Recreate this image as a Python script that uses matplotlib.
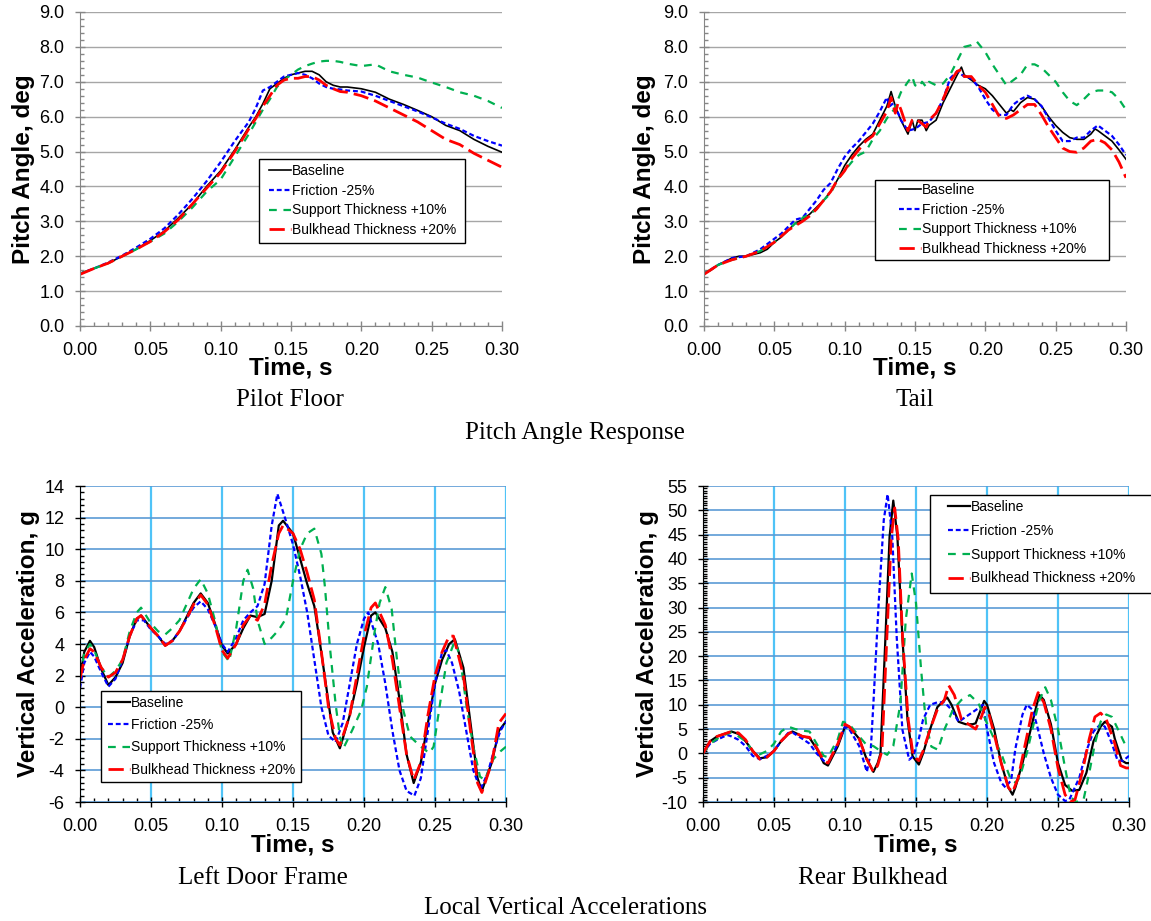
import matplotlib
matplotlib.use('Agg')
import matplotlib.pyplot as plt
from matplotlib.patches import Rectangle
from matplotlib.ticker import MultipleLocator, FormatStrFormatter

plt.rcParams['font.family'] = ['Liberation Sans', 'DejaVu Sans']
plt.rcParams['axes.unicode_minus'] = False

# ---- data ----
series_names = ['Baseline', 'Friction -25%', 'Support Thickness +10%', 'Bulkhead Thickness +20%']

# Pitch angle, pilot floor (deg) - one time base for all four runs
pf_t = [0, .01, .02, .03, .04, .05, .06, .07, .08, .09, .10, .11, .12, .125, .13, .135, .14, .145, .15,
        .155, .16, .165, .17, .175, .18, .185, .19, .20, .21, .22, .23, .24, .25, .26, .27, .28, .29, .30]
pf_base = [1.5, 1.65, 1.8, 2.0, 2.2, 2.45, 2.72, 3.1, 3.5, 4.0, 4.45, 5.05, 5.7, 6.0, 6.37, 6.8, 6.95, 7.1, 7.2,
           7.25, 7.3, 7.3, 7.2, 7.0, 6.9, 6.85, 6.85, 6.8, 6.7, 6.5, 6.35, 6.18, 6.0, 5.75, 5.6, 5.35, 5.15, 4.98]
pf_fric = [1.5, 1.65, 1.82, 2.02, 2.25, 2.5, 2.8, 3.2, 3.65, 4.15, 4.7, 5.3, 5.85, 6.25, 6.75, 6.85, 7.0, 7.15, 7.2,
           7.25, 7.2, 7.1, 6.95, 6.85, 6.8, 6.78, 6.75, 6.72, 6.6, 6.45, 6.3, 6.15, 5.98, 5.8, 5.65, 5.45, 5.3, 5.17]
pf_supp = [1.5, 1.65, 1.8, 2.0, 2.2, 2.42, 2.65, 3.0, 3.4, 3.85, 4.2, 4.85, 5.5, 5.85, 6.2, 6.5, 6.85, 7.05, 7.2,
           7.35, 7.45, 7.52, 7.58, 7.6, 7.6, 7.57, 7.52, 7.45, 7.5, 7.3, 7.2, 7.12, 6.98, 6.85, 6.7, 6.6, 6.45, 6.25]
pf_bulk = [1.48, 1.65, 1.8, 2.0, 2.2, 2.42, 2.7, 3.05, 3.5, 3.95, 4.4, 5.0, 5.65, 5.95, 6.3, 6.6, 6.9, 7.05, 7.1,
           7.1, 7.15, 7.15, 7.05, 6.9, 6.8, 6.72, 6.7, 6.6, 6.45, 6.25, 6.05, 5.85, 5.6, 5.35, 5.2, 4.95, 4.75, 4.55]

# Pitch angle, tail (deg)
tl_base_t = [0, .005, .01, .015, .02, .025, .03, .035, .04, .045, .05, .055, .06, .065, .07, .075, .08, .085, .09, .095,
             .10, .105, .11, .115, .12, .125, .13, .133, .136, .14, .145, .148, .15, .152, .155, .158, .16, .165, .17, .175,
             .18, .183, .185, .19, .195, .20, .205, .21, .215, .218, .22, .225, .23, .235, .24, .245, .25, .255, .26, .265,
             .27, .275, .278, .28, .285, .29, .295, .30]
tl_base = [1.5, 1.6, 1.75, 1.85, 1.95, 2.0, 2.0, 2.05, 2.1, 2.2, 2.4, 2.55, 2.75, 2.95, 3.05, 3.2, 3.4, 3.6, 3.85, 4.2,
           4.6, 4.9, 5.15, 5.35, 5.5, 5.9, 6.3, 6.72, 6.3, 5.9, 5.5, 5.9, 5.6, 5.9, 5.9, 5.6, 5.75, 5.9, 6.4, 6.8,
           7.2, 7.42, 7.2, 7.05, 6.9, 6.8, 6.6, 6.35, 6.1, 6.2, 6.15, 6.4, 6.55, 6.5, 6.3, 6.0, 5.75, 5.55, 5.4, 5.35,
           5.35, 5.5, 5.65, 5.6, 5.45, 5.3, 5.05, 4.78]
tl_fric_t = [0, .01, .02, .03, .04, .05, .055, .06, .065, .07, .075, .08, .085, .09, .095, .10, .105, .11, .115, .12,
             .125, .13, .132, .135, .14, .145, .15, .155, .16, .165, .17, .175, .18, .185, .19, .195, .20, .205, .21, .215,
             .22, .225, .23, .235, .24, .245, .25, .255, .26, .265, .27, .275, .28, .285, .29, .295, .30]
tl_fric = [1.5, 1.75, 1.95, 2.0, 2.2, 2.5, 2.65, 2.85, 3.05, 3.1, 3.35, 3.6, 3.9, 4.1, 4.5, 4.85, 5.1, 5.3, 5.55, 5.8,
           6.15, 6.55, 6.3, 6.4, 5.9, 5.6, 5.65, 5.8, 5.85, 6.1, 6.5, 7.1, 7.3, 7.15, 7.1, 6.85, 6.5, 6.2, 6.05, 6.05,
           6.35, 6.5, 6.6, 6.5, 6.3, 5.95, 5.6, 5.3, 5.3, 5.4, 5.4, 5.6, 5.75, 5.6, 5.45, 5.2, 4.9]
tl_supp_t = [0, .01, .02, .03, .04, .05, .06, .065, .068, .07, .075, .08, .085, .09, .095, .10, .105, .11, .115, .12,
             .125, .13, .135, .14, .145, .148, .15, .153, .155, .158, .16, .165, .17, .175, .18, .185, .19, .194, .197, .20,
             .205, .21, .215, .22, .225, .23, .235, .24, .245, .25, .255, .26, .265, .27, .275, .28, .285, .29, .295, .30]
tl_supp = [1.5, 1.75, 1.9, 2.0, 2.15, 2.4, 2.75, 2.95, 2.9, 3.1, 3.2, 3.35, 3.6, 3.8, 4.2, 4.45, 4.7, 4.9, 5.0, 5.35,
           5.6, 5.95, 6.2, 6.7, 7.0, 7.15, 6.9, 6.85, 7.0, 6.85, 7.0, 6.9, 6.95, 7.2, 7.6, 8.0, 8.05, 8.15, 8.0, 7.85,
           7.5, 7.2, 6.9, 7.05, 7.2, 7.5, 7.5, 7.4, 7.2, 7.0, 6.7, 6.45, 6.33, 6.5, 6.7, 6.75, 6.75, 6.7, 6.5, 6.2]
tl_bulk_t = [0, .01, .02, .03, .04, .05, .06, .07, .075, .08, .085, .09, .095, .10, .105, .11, .115, .12, .125, .13,
             .133, .136, .138, .14, .145, .148, .15, .155, .158, .16, .165, .17, .175, .18, .183, .185, .19, .195, .20, .205,
             .21, .215, .22, .225, .23, .235, .24, .245, .25, .255, .26, .265, .27, .275, .28, .285, .29, .295, .30]
tl_bulk = [1.48, 1.75, 1.9, 2.0, 2.15, 2.4, 2.75, 3.0, 3.15, 3.35, 3.6, 3.85, 4.2, 4.45, 4.8, 5.05, 5.3, 5.45, 5.8, 6.15,
           6.55, 6.1, 6.4, 6.2, 5.6, 5.9, 5.95, 5.8, 5.7, 5.9, 6.1, 6.5, 7.0, 7.3, 7.35, 7.15, 7.15, 6.9, 6.7, 6.35,
           6.0, 5.95, 6.05, 6.2, 6.35, 6.35, 6.05, 5.7, 5.4, 5.1, 5.0, 4.98, 5.1, 5.3, 5.35, 5.25, 5.05, 4.7, 4.25]

# Vertical acceleration, left door frame (g)
ld_base_t = [0, .003, .007, .01, .015, .02, .025, .03, .035, .04, .043, .05, .055, .06, .065, .07, .075, .08, .085, .09,
             .095, .10, .104, .11, .115, .12, .125, .13, .135, .14, .143, .15, .155, .16, .165, .169, .175, .178, .183, .19,
             .195, .20, .205, .208, .215, .22, .225, .23, .235, .24, .245, .25, .255, .26, .264, .27, .275, .28, .283, .29,
             .295, .30]
ld_base = [1.8, 3.5, 4.2, 3.8, 2.4, 1.4, 1.9, 2.8, 4.5, 5.6, 5.8, 5.0, 4.5, 3.9, 4.2, 4.8, 5.7, 6.6, 7.2, 6.6,
           5.3, 3.9, 3.4, 4.0, 5.0, 5.8, 5.7, 5.9, 8.0, 11.5, 11.8, 11.0, 9.4, 7.8, 6.4, 4.05, 0.3, -1.6, -2.6, -0.5,
           1.5, 3.8, 5.8, 6.0, 5.0, 3.5, 0.5, -3.0, -4.8, -3.5, -1.0, 1.5, 3.0, 4.0, 4.3, 2.5, -1.0, -4.5, -5.3, -3.5,
           -1.5, -0.9]
ld_fric_t = [0, .003, .007, .01, .015, .02, .025, .03, .035, .04, .045, .05, .055, .06, .065, .07, .075, .08, .085, .09,
             .095, .10, .104, .11, .115, .12, .125, .13, .135, .139, .145, .15, .155, .16, .165, .17, .175, .18, .185, .19,
             .195, .20, .203, .21, .215, .22, .225, .23, .2355, .24, .245, .25, .255, .258, .262, .267, .272, .277, .282, .287,
             .292, .296, .30]
ld_fric = [1.2, 2.8, 3.5, 3.2, 2.2, 1.3, 1.8, 3.0, 4.5, 5.5, 5.5, 4.9, 4.5, 4.0, 4.2, 4.8, 5.6, 6.3, 6.7, 6.2,
           5.2, 4.0, 3.5, 4.4, 5.5, 6.0, 6.4, 7.8, 11.5, 13.5, 11.8, 10.3, 8.3, 6.0, 3.0, 0.0, -1.8, -2.2, -1.0, 1.5,
           4.0, 5.6, 6.0, 4.0, 1.5, -1.5, -4.0, -5.3, -5.6, -4.5, -1.5, 1.5, 3.5, 3.6, 2.8, 1.0, -1.5, -4.0, -5.2, -4.2,
           -2.6, -1.5, -0.9]
ld_supp_t = [0, .003, .007, .01, .015, .02, .025, .03, .035, .04, .043, .05, .055, .06, .065, .07, .075, .08, .085, .09,
             .095, .10, .105, .11, .115, .118, .122, .125, .13, .135, .14, .145, .15, .155, .16, .165, .17, .1725, .176, .18,
             .183, .1855, .192, .198, .202, .2077, .211, .215, .2195, .223, .2277, .2324, .24, .246, .249, .2535, .258, .264,
             .2676, .272, .277, .2817, .285, .291, .296, .30]
ld_supp = [2.0, 3.4, 4.0, 3.6, 2.5, 1.9, 2.3, 3.0, 4.8, 6.0, 6.3, 5.3, 4.8, 4.6, 5.0, 5.5, 6.5, 7.5, 8.1, 7.2,
           5.5, 3.5, 2.9, 5.0, 8.0, 8.7, 7.5, 5.5, 4.0, 4.4, 4.9, 5.6, 8.0, 10.0, 11.0, 11.3, 9.7, 7.6, 3.8, 0.2,
           -1.85, -2.6, -1.4, -0.2, 1.3, 4.9, 6.6, 7.6, 6.2, 3.2, -0.2, -1.85, -2.5, -2.9, -2.5, 0.2, 2.8, 4.2,
           3.2, 0.2, -2.5, -4.4, -4.6, -3.3, -2.8, -2.5]
ld_bulk_t = [0, .003, .007, .01, .015, .02, .025, .03, .035, .04, .043, .05, .055, .06, .065, .07, .075, .08, .085, .09,
             .095, .10, .104, .11, .115, .12, .125, .13, .135, .14, .143, .15, .155, .16, .165, .17, .175, .18, .183, .19,
             .195, .20, .205, .208, .215, .22, .225, .23, .235, .24, .245, .25, .255, .26, .263, .27, .275, .28, .283, .29,
             .295, .30]
ld_bulk = [1.8, 3.0, 3.7, 3.5, 2.5, 1.9, 2.2, 3.0, 4.5, 5.6, 5.8, 5.0, 4.5, 3.9, 4.2, 4.8, 5.6, 6.5, 7.1, 6.5,
           5.2, 3.6, 3.1, 4.0, 5.2, 5.8, 5.5, 6.5, 9.0, 11.0, 11.5, 11.0, 10.0, 8.5, 6.8, 3.5, 0.0, -2.0, -2.4, -0.5,
           2.0, 4.5, 6.3, 6.6, 5.2, 3.0, 0.0, -3.0, -4.6, -3.5, -0.5, 2.0, 3.5, 4.5, 4.5, 2.0, -1.5, -4.8, -5.4, -3.5,
           -1.0, -0.4]

# Vertical acceleration, rear bulkhead (g)
rb_base_t = [0, .005, .01, .015, .02, .025, .03, .035, .04, .045, .05, .055, .06, .063, .07, .075, .08, .085, .088, .095,
             .10, .103, .11, .115, .12, .123, .125, .1285, .1314, .134, .1369, .1404, .144, .1476, .152, .155, .16, .165, .17, .172,
             .175, .18, .185, .19, .192, .195, .198, .20, .205, .21, .215, .218, .22, .225, .23, .235, .237, .24, .245, .25,
             .255, .26, .265, .27, .275, .28, .283, .288, .29, .295, .298, .30]
rb_base = [0, 2.5, 3.5, 4.0, 4.5, 4.0, 2.5, 0.5, -1.0, -0.8, 0.5, 2.5, 4.0, 4.5, 3.5, 3.2, 1.0, -2.0, -2.5, 1.5,
           5.5, 5.5, 3.0, -1.0, -3.8, -2.0, 0.0, 24, 44.6, 52, 44.6, 24, 7, -0.6, -2.3, 0.0, 5.0, 9.5, 11.0, 11.5,
           10.0, 6.5, 6.0, 6.0, 6.2, 8.5, 10.8, 10.0, 5.0, -2.0, -7.0, -8.5, -7.0, -2.0, 4.0, 10.0, 12.0, 11.0, 6.0, -2.0,
           -6.5, -7.7, -7.5, -4.0, 2.5, 5.5, 6.5, 5.5, 3.0, -1.5, -2.0, -2.0]
rb_fric_t = [0, .005, .01, .017, .02, .025, .03, .035, .04, .045, .05, .055, .06, .063, .07, .075, .08, .085, .088, .095,
             .10, .103, .11, .1154, .118, .120, .1237, .1273, .130, .1333, .1364, .1404, .1452, .148, .152, .155, .16, .165, .17, .175,
             .18, .185, .19, .195, .197, .20, .205, .21, .213, .217, .22, .225, .228, .232, .235, .24, .245, .25, .255, .258,
             .265, .27, .275, .28, .283, .288, .292, .296, .30]
rb_fric = [0, 2.0, 2.8, 3.8, 3.5, 2.8, 1.5, -0.5, -1.2, -0.5, 0.5, 2.5, 4.2, 4.3, 3.0, 2.0, 0.0, -1.5, -2.0, 2.0,
           5.5, 5.0, 1.5, -3.8, 0.0, 10.3, 30.9, 48, 53.3, 44.6, 24, 4.9, -1.3, -0.6, 3.0, 7.0, 10.0, 10.5, 10.5, 9.0,
           6.5, 7.5, 8.5, 9.5, 10.0, 5.0, -2.0, -6.0, -7.0, -5.5, 1.0, 8.0, 10.0, 9.0, 6.0, 0.0, -5.0, -8.5, -9.8, -9.5,
           -5.0, 0.5, 4.5, 6.0, 5.5, 2.0, -1.5, -1.5, -0.5]
rb_supp_t = [0, .005, .01, .015, .02, .025, .03, .035, .04, .045, .05, .055, .06, .065, .07, .075, .08, .085, .088, .095,
             .0986, .103, .11, .115, .12, .125, .1297, .134, .139, .1428, .147, .150, .1536, .157, .1608, .1655, .170, .176, .182, .188,
             .194, .200, .205, .21, .215, .217, .22, .223, .228, .232, .237, .241, .245, .25, .255, .259, .263, .268, .272, .276,
             .28, .284, .288, .293, .297, .30]
rb_supp = [0, 2.0, 3.0, 3.8, 4.3, 3.5, 2.5, 0.5, -0.2, 0.5, 2.0, 4.5, 5.5, 5.0, 4.7, 4.5, 2.0, -0.5, -0.8, 3.0,
           6.5, 6.0, 3.5, 1.8, 1.5, 0.5, -0.3, 1.5, 10.3, 27.5, 37, 30.9, 17.2, 6.2, 1.4, 0.75, 4.9, 9.0, 11.0, 12.0,
           10.3, 6.2, 3.0, 0.0, -4.0, -5.5, -6.0, -5.0, 0.0, 5.0, 11.0, 13.6, 11.0, 5.0, -3.0, -9.0, -10.0, -9.5, -4.0, 2.0,
           6.5, 8.0, 7.5, 4.5, 2.0, 1.2]
rb_bulk_t = [0, .005, .01, .015, .02, .025, .03, .035, .04, .045, .05, .055, .06, .063, .07, .075, .08, .085, .088, .095,
             .10, .103, .11, .115, .12, .123, .126, .1295, .1325, .135, .1375, .1405, .1445, .148, .152, .155, .16, .165, .17, .173,
             .177, .182, .187, .192, .196, .1985, .201, .205, .21, .215, .218, .222, .227, .232, .236, .24, .245, .25, .255, .259,
             .262, .267, .272, .276, .28, .284, .29, .294, .298, .30]
rb_bulk = [0, 2.5, 3.5, 4.0, 4.5, 4.2, 2.8, 0.5, -1.2, -0.8, 0.5, 2.5, 4.0, 4.5, 3.5, 3.3, 1.2, -1.5, -2.0, 2.0,
           6.0, 5.5, 3.0, -1.0, -3.8, -2.5, 0.5, 24, 44, 50.5, 44, 24, 7, -0.5, -1.5, 0.5, 5.0, 9.0, 11.0, 14.0,
           12.0, 7.0, 6.0, 5.0, 7.5, 9.5, 8.5, 4.0, -2.0, -7.0, -8.0, -5.0, 2.0, 9.0, 12.5, 10.5, 5.0, -3.0, -8.5, -10.0,
           -9.5, -4.0, 3.0, 7.5, 8.3, 7.0, 2.0, -2.5, -3.0, -3.0]

W, H = 1151, 921
fig = plt.figure(figsize=(W / 100, H / 100), dpi=100)


def add_ax(left, top, right, bottom):
    # axes box given in pixels of the final picture
    return fig.add_axes([left / W, 1 - bottom / H, (right - left) / W, (bottom - top) / H])


def draw_runs(ax, runs, thick_black):
    styles = [dict(color='black', lw=1.6 if thick_black else 1.2),
              dict(color='#0000ff', lw=1.6, dashes=(2.2, 1.3)),
              dict(color='#00b050', lw=1.6, dashes=(3.5, 3.0)),
              dict(color='#ff0000', lw=2.0, dashes=(5.5, 2.2))]
    for (t, v), name, st in zip(runs, series_names, styles):
        ax.plot(t, v, label=name, **st)


def common_axis(ax, ymin, ymax, ymaj, ymin_step, tick_color):
    ax.set_xlim(0, 0.30)
    ax.set_ylim(ymin, ymax)
    ax.xaxis.set_major_locator(MultipleLocator(0.05))
    ax.xaxis.set_minor_locator(MultipleLocator(0.01))
    ax.xaxis.set_major_formatter(FormatStrFormatter('%.2f'))
    ax.yaxis.set_major_locator(MultipleLocator(ymaj))
    ax.yaxis.set_minor_locator(MultipleLocator(ymin_step))
    ax.tick_params(which='major', direction='inout', length=6.5, width=1, color=tick_color,
                   labelsize=13, pad=8)
    ax.tick_params(which='minor', direction='in', length=3, width=1, color=tick_color)
    ax.spines['top'].set_visible(False)
    ax.spines['right'].set_visible(False)
    ax.spines['left'].set_color(tick_color)
    ax.spines['bottom'].set_color(tick_color)
    ax.set_axisbelow(True)
    ax.set_xlabel('Time, s', fontsize=17.5, fontweight='bold')
    ax.xaxis.label.set_va('center')


def add_legend(ax, box, handle_x, row1_y, spacing):
    # box = (left, top, right, bottom) in pixels; frame drawn separately
    l, t, r, b = box
    ax.add_patch(Rectangle((l / W, 1 - b / H), (r - l) / W, (b - t) / H, transform=fig.transFigure,
                           facecolor='white', edgecolor='black', lw=1.0, clip_on=False, zorder=4))
    ax.legend(loc='upper left', bbox_to_anchor=(handle_x / W, 1 - (row1_y - 7.2) / H),
              bbox_transform=fig.transFigure, fontsize=10, frameon=False,
              borderaxespad=0, borderpad=0, handlelength=1.55, handletextpad=0.1,
              labelspacing=spacing)


# --- top row: pitch angle ---
ax1 = add_ax(80, 12, 502, 326)
ax2 = add_ax(704, 12, 1126, 326)
draw_runs(ax1, [(pf_t, pf_base), (pf_t, pf_fric), (pf_t, pf_supp), (pf_t, pf_bulk)], False)
draw_runs(ax2, [(tl_base_t, tl_base), (tl_fric_t, tl_fric), (tl_supp_t, tl_supp), (tl_bulk_t, tl_bulk)], False)
for ax, lx in [(ax1, -0.135), (ax2, -0.14)]:
    common_axis(ax, 0, 9, 1.0, 0.2, '#868686')
    ax.yaxis.set_major_formatter(FormatStrFormatter('%.1f'))
    ax.yaxis.grid(True, color='#a6a6a6', lw=1.0)
    ax.set_ylabel('Pitch Angle, deg', fontsize=17.5, fontweight='bold')
    ax.yaxis.set_label_coords(lx, 0.5)
    ax.yaxis.label.set_va('center')
    ax.xaxis.set_label_coords(0.5, -0.134)
add_legend(ax1, (259, 159, 465, 243), 269, 171, 0.42)
add_legend(ax2, (875, 180, 1109, 260), 899, 190, 0.42)

# --- bottom row: vertical accelerations ---
ax3 = add_ax(80, 486, 506, 802)
ax4 = add_ax(703, 486, 1129, 802)
draw_runs(ax3, [(ld_base_t, ld_base), (ld_fric_t, ld_fric), (ld_supp_t, ld_supp), (ld_bulk_t, ld_bulk)], True)
draw_runs(ax4, [(rb_base_t, rb_base), (rb_fric_t, rb_fric), (rb_supp_t, rb_supp), (rb_bulk_t, rb_bulk)], True)
common_axis(ax3, -6, 14, 2, 0.4, 'black')
common_axis(ax4, -10, 55, 5, 0.5, 'black')
for ax, lx in [(ax3, -0.12), (ax4, -0.131)]:
    ax.yaxis.set_major_formatter(FormatStrFormatter('%d'))
    ax.yaxis.grid(True, color='#5b9bd5', lw=1.2)
    ax.xaxis.grid(True, color='#4fc3f7', lw=1.6)
    ax.set_ylabel('Vertical Acceleration, g', fontsize=17.5, fontweight='bold')
    ax.yaxis.set_label_coords(lx, 0.5)
    ax.yaxis.label.set_va('center')
    ax.xaxis.set_label_coords(0.5, -0.136)
add_legend(ax3, (101, 691, 301, 782), 108, 703, 0.6)
add_legend(ax4, (930, 495, 1165, 593), 948, 507, 0.71)

# --- captions ---
serif = ['Liberation Serif', 'DejaVu Serif']
caps = [('Pilot Floor', 290, 400), ('Tail', 915, 400), ('Pitch Angle Response', 575, 433),
        ('Left Door Frame', 263, 878), ('Rear Bulkhead', 873, 878), ('Local Vertical Accelerations', 565, 908)]
for txt, cx, cy in caps:
    fig.text(cx / W, 1 - cy / H, txt, ha='center', va='center', fontsize=18, family=serif)

fig.savefig('out.png', dpi=100)
